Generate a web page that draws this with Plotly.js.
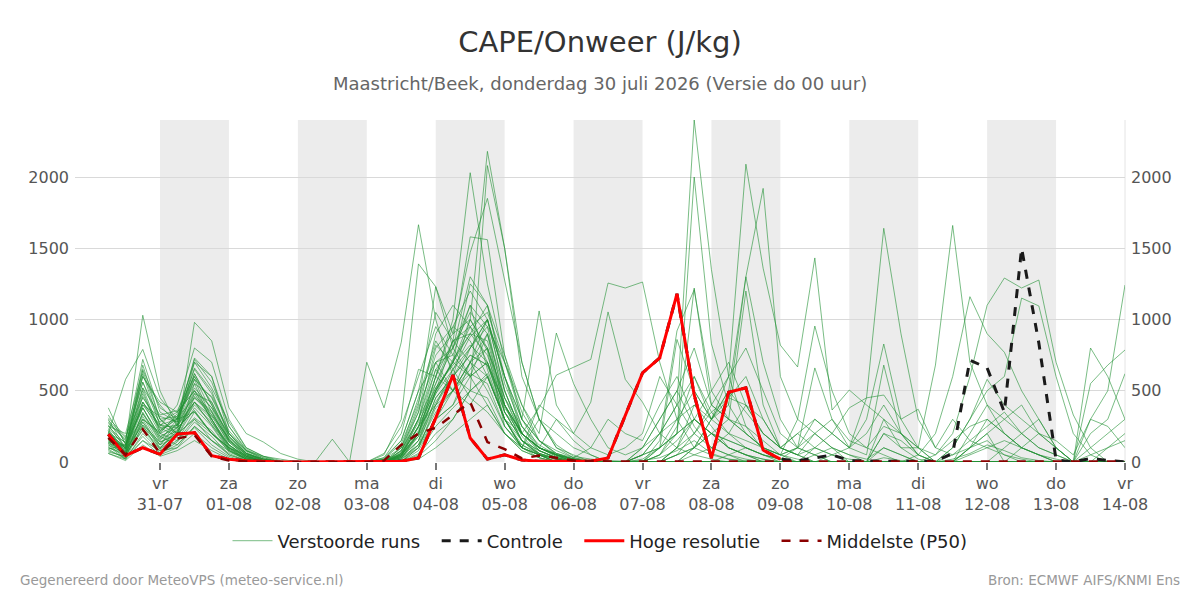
<!DOCTYPE html>
<html>
<head>
<meta charset="utf-8">
<script src="https://cdn.plot.ly/plotly-3.0.1.min.js"></script>
<style>
  html, body { margin: 0; padding: 0; background: #fff; }
  #chart { width: 1200px; height: 600px; }
</style>
</head>
<body>
<div id="chart"></div>
<script>
// ---------- DATA ----------
const startTime = '2026-07-30T06:00:00';
const stepHours = 6;

// Hoge resolutie (HRES), 6-hourly from 30-07 06:00 up to 09-08 00:00
const hres = [195,44,100,54,196,206,44,20,8,3,
              0,0,0,0,0,0,0,5,28,310,
              610,168,20,50,14,5,5,5,5,28,
              325,625,730,1180,470,28,490,520,84,20];

// Controle run
const control = [195,44,100,54,196,206,44,20,8,3,
                 0,0,0,0,0,0,0,5,28,310,
                 610,168,20,50,14,5,5,5,5,28,
                 325,625,730,1180,470,28,490,520,84,20,
                 8,30,50,10,5,5,5,5,5,60,
                 715,660,350,1500,835,14,0,25,10,2];

// Middelste (P50)
const p50 = [170,50,230,60,165,190,40,10,3,0,
             0,0,0,0,0,0,10,120,200,240,
             330,420,140,90,25,45,30,10,5,3,
             3,3,3,3,3,3,3,3,3,3,
             3,3,3,3,3,3,3,3,3,3,
             3,3,3,3,3,3,3,3,3,3];

// Verstoorde runs (ensemble members)
const ensembleRuns = [
 [200,580,790,450,300,350,200,100,40,10, 0,0,0,0,0,0,0,60,250,500, 700,1000,2180,1500,700,300,120,40,20,10, 5,10,30,80,150,60,20,10,5,0, 0,0,0,0,0,30,10,0,0,20, 60,120,80,30,10,0,0,0,0,0],
 [380,120,1030,500,250,420,300,120,30,0, 0,0,0,0,0,0,20,100,400,1230, 800,1300,1100,600,300,100,50,20,0,0, 0,50,200,400,2400,1350,600,250,80,20, 0,0,0,0,0,0,0,0,0,0, 0,0,0,0,0,0,0,0,0,0],
 [250,200,640,300,200,980,850,380,200,140, 60,20,0,0,0,0,0,50,200,600, 1000,2030,1250,700,400,150,60,20,0,0, 0,0,50,200,2000,830,400,200,100,50, 20,0,0,0,0,0,0,0,0,0, 0,0,0,0,0,0,0,0,0,0],
 [150,60,420,250,400,800,700,300,100,40, 0,0,0,0,0,700,380,840,1665,1000, 600,500,2080,1500,600,300,100,30,10,0, 0,0,0,0,0,0,0,0,0,0, 0,0,0,0,0,0,0,0,0,0, 0,0,0,0,0,0,0,0,0,0],
 [100,50,350,150,300,730,600,250,80,20, 0,0,0,0,0,0,50,300,1390,1230, 900,1470,1850,1280,700,300,100,50,0,0, 0,0,0,0,0,0,0,0,0,0, 0,0,0,0,0,0,0,0,0,0, 0,0,0,0,0,0,0,0,0,0],
 [120,30,300,100,200,450,350,150,50,10, 0,0,0,0,0,0,0,80,300,700, 500,400,600,300,200,380,610,665,720,1256, 1221,1263,700,300,100,50,20,0,0,0, 0,0,0,0,0,0,0,0,0,0, 0,0,0,0,0,0,0,0,0,0],
 [180,100,600,420,350,500,300,80,20,0, 0,0,0,0,0,0,30,150,500,1050, 850,1580,1560,750,300,1060,400,200,420,1053, 580,420,200,100,50,20,0,0,0,0, 0,0,0,0,0,0,0,0,0,0, 0,0,0,0,0,0,0,0,0,0],
 [220,90,500,200,150,350,200,100,50,20, 0,0,0,0,0,0,0,50,200,500, 700,1250,1100,750,400,200,905,550,300,100, 50,100,300,500,800,400,600,2090,1360,820, 667,1432,365,505,400,300,100,20,0,0, 0,0,0,0,0,0,0,0,0,0],
 [160,40,250,120,250,700,600,200,80,30, 0,0,0,0,0,0,0,0,100,400, 600,800,1000,600,200,100,50,20,0,0, 0,100,200,400,600,300,500,1300,1920,600, 300,954,500,200,100,50,0,0,0,0, 0,0,0,0,0,0,0,0,0,0],
 [90,20,200,80,150,300,200,80,20,0, 0,0,0,0,0,0,0,30,150,400, 500,700,900,500,200,100,50,0,0,0, 0,0,100,200,1221,400,300,200,100,50, 100,300,200,380,450,1640,900,300,100,300, 150,100,50,20,0,0,0,0,0,0],
 [140,70,380,180,120,250,150,60,10,0, 0,0,0,0,0,0,0,0,80,300, 400,600,700,400,150,80,30,0,0,0, 0,0,0,0,50,100,200,400,300,100, 50,200,100,0,0,200,100,100,680,1660, 700,400,200,100,50,0,0,0,0,0],
 [60,20,150,50,100,250,150,50,10,0, 0,0,0,0,0,0,0,0,50,200, 300,500,600,300,100,50,0,0,0,0, 0,0,0,0,0,0,50,100,50,20, 0,0,0,0,0,0,0,50,200,600, 1160,900,770,500,300,100,0,0,0,0],
 [280,150,720,350,280,620,400,150,60,20, 0,0,0,0,0,0,0,100,350,900, 1100,950,700,350,150,80,30,10,0,0, 0,0,50,150,300,200,100,50,20,0, 0,0,0,0,0,0,0,0,50,200, 600,1100,1291,1221,1277,700,330,100,0,0],
 [130,80,480,220,320,550,280,120,40,0, 0,0,0,0,0,0,60,250,600,950, 750,1100,950,400,150,60,20,0,0,0, 0,0,0,100,400,300,500,350,200,100, 50,100,200,100,300,828,300,100,0,100, 300,500,600,1150,1095,600,200,50,0,0],
 [240,110,380,160,220,420,260,90,20,0, 0,0,0,0,0,0,0,40,250,600, 850,900,750,380,200,100,50,20,0,0, 0,50,100,300,500,300,200,150,100,50, 100,660,300,100,50,680,200,50,0,0, 0,0,100,200,300,100,0,800,600,300],
 [170,40,280,90,180,380,250,80,30,0, 0,0,0,0,0,0,0,0,120,450, 600,1000,780,250,100,50,20,0,0,0, 0,0,0,50,200,350,450,600,300,100, 200,300,200,100,450,470,300,370,100,50, 100,200,0,100,200,150,50,300,500,1242],
 [90,120,560,260,240,360,200,100,20,0, 0,0,0,0,0,0,0,20,100,380, 500,700,1000,600,250,80,30,0,0,0, 0,0,150,920,1210,500,300,200,100,50, 0,0,50,100,200,400,200,100,0,100, 300,580,400,300,200,100,0,550,680,786],
 [310,180,450,280,350,500,380,200,80,40, 20,0,0,0,0,0,0,80,300,800, 950,850,600,300,120,50,20,0,0,0, 0,0,100,860,500,300,400,1300,700,300, 100,50,0,0,0,0,0,0,0,0, 100,200,300,400,200,100,0,200,300,620],
 [220,60,320,120,280,660,500,180,60,10, 0,0,0,0,0,0,20,150,500,700, 800,1100,650,300,100,400,300,200,100,50, 100,200,600,400,200,100,50,20,0,0, 0,0,0,0,0,0,0,0,0,0, 0,0,0,0,0,0,0,0,0,0],
 [160,100,680,300,200,300,150,80,10,0, 0,0,0,0,0,0,0,50,180,500, 700,950,800,450,200,100,300,150,50,0, 0,0,0,0,100,200,300,1200,400,100, 50,0,0,0,0,0,0,0,0,0, 0,0,0,0,0,0,0,0,0,0],
 [200,140,420,200,260,580,450,200,60,20, 0,0,0,0,0,0,0,100,450,850, 650,800,1000,500,200,100,40,10,0,0, 0,0,0,0,0,0,0,0,0,0, 0,0,0,0,0,0,0,0,0,0, 0,0,0,0,0,0,0,0,0,0],
 [110,20,260,60,140,280,180,50,10,0, 0,0,0,0,0,0,0,0,60,250, 380,500,450,200,80,30,0,0,0,0, 0,0,0,0,0,0,0,0,0,0, 0,0,0,0,0,0,0,0,0,0, 0,0,0,0,0,0,0,0,0,0],
 [260,90,400,240,180,420,320,140,40,10, 0,0,0,0,0,0,30,200,650,600, 500,800,950,700,300,150,60,20,0,0, 0,100,300,500,250,100,50,0,0,0, 0,0,0,0,0,0,0,0,0,0, 0,0,0,0,0,0,0,0,0,0],
 [80,30,180,60,120,240,120,40,0,0, 0,0,0,0,0,0,0,30,200,550, 850,700,500,250,100,50,20,0,0,0, 0,0,0,0,0,0,0,0,0,0, 0,0,0,0,0,0,0,0,0,0, 0,0,0,0,0,0,0,0,0,0],
 [190,110,520,330,360,600,420,160,50,0, 0,0,0,160,0,0,0,40,150,450, 600,750,680,350,200,100,50,20,0,0, 0,0,0,0,0,0,0,0,0,0, 0,0,0,0,0,0,0,0,0,0, 0,0,0,0,0,0,0,0,0,0],
 [140,50,230,100,220,400,280,100,30,0, 0,0,0,0,0,0,0,60,280,520, 700,600,900,450,180,60,20,0,0,0, 0,0,0,0,0,0,0,0,0,0, 0,0,0,0,0,0,0,0,0,0, 0,0,0,0,0,0,0,0,0,0],
 [70,40,150,80,100,200,100,30,0,0, 0,0,0,0,0,0,0,0,40,150, 300,500,620,300,100,50,0,0,0,0, 0,0,0,0,0,0,0,0,0,0, 0,0,0,0,0,0,0,0,0,0, 0,0,0,0,0,0,0,0,0,0],
 [230,70,340,170,260,480,300,110,30,0, 0,0,0,0,0,0,0,20,120,350, 500,620,550,250,120,60,30,10,0,0, 0,20,100,200,300,200,150,100,50,20, 100,200,300,150,100,250,200,100,50,150, 250,300,200,100,50,20,0,100,200,300],
 [150,90,260,140,190,310,220,70,20,0, 0,0,0,0,0,0,0,50,250,400, 650,450,350,200,100,30,0,0,0,0, 0,50,200,300,400,250,100,50,20,0, 0,50,100,50,20,100,50,0,0,50, 150,250,350,200,100,50,0,0,100,200],
 [120,60,220,90,240,360,200,90,20,0, 0,0,0,0,0,0,0,0,100,300, 400,700,800,350,150,50,0,0,0,0, 0,0,0,100,200,400,300,250,150,50, 300,200,100,50,0,300,200,50,0,0, 100,150,50,0,0,0,0,300,250,100],
 [330,130,300,210,310,450,330,170,60,20, 0,0,0,0,0,0,0,40,300,650, 800,600,700,400,200,100,50,0,0,0, 0,0,0,0,0,0,0,0,0,0, 0,0,0,0,0,0,0,0,0,0, 0,0,0,0,0,0,0,0,0,0],
 [60,10,120,40,80,150,80,20,0,0, 0,0,0,0,0,0,0,0,20,100, 200,300,400,200,80,30,0,0,0,0, 0,0,0,50,100,200,150,100,50,20, 0,100,50,20,0,100,50,0,0,0, 50,100,150,100,50,0,0,50,100,150],
 [200,100,650,380,300,720,560,250,90,30, 0,0,0,0,0,0,0,70,350,750, 900,1000,800,400,200,100,60,30,100,300, 200,150,400,600,300,200,100,50,0,0, 0,0,0,0,0,0,0,0,0,0, 0,0,0,0,0,0,0,0,0,0],
 [270,160,560,300,320,650,480,200,70,10, 0,0,0,0,0,0,20,130,420,820, 700,900,1100,550,250,120,50,20,0,0, 0,0,0,50,100,300,450,400,200,100, 50,0,0,0,0,0,0,0,0,0, 0,0,0,0,0,0,0,0,0,0],
 [180,70,460,240,260,520,380,150,40,0, 0,0,0,0,0,0,0,60,300,550, 800,1050,900,350,150,60,20,0,0,0, 0,0,50,250,600,350,200,100,50,0, 0,0,0,0,0,0,0,0,0,0, 0,0,0,0,0,0,0,0,0,0],
 [300,90,620,260,200,480,420,180,60,10, 0,0,0,0,0,0,0,40,200,480, 650,880,1000,600,300,150,80,30,0,0, 0,0,0,0,0,0,0,0,0,0, 0,0,0,0,0,0,0,0,0,0, 0,0,0,0,0,0,0,0,0,0],
 [140,120,400,320,280,600,350,120,30,0, 0,0,0,0,0,0,0,50,250,650, 500,700,600,300,100,50,0,0,0,0, 0,50,100,200,300,500,700,400,200,100, 200,100,50,0,0,0,0,0,0,0, 0,0,0,0,0,0,0,0,0,0],
 [210,60,300,200,340,700,520,280,100,40, 10,0,0,0,0,0,0,30,180,420, 600,750,680,400,200,100,40,10,0,0, 0,0,0,0,0,0,0,0,0,0, 0,0,0,0,0,200,150,50,0,0, 100,300,200,100,50,0,0,0,0,0],
 [170,100,520,220,300,580,300,100,20,0, 0,0,0,0,0,0,0,0,150,500, 850,950,1050,700,350,150,50,0,0,0, 0,0,0,0,0,0,0,0,0,0, 0,0,0,0,0,0,0,0,0,0, 0,0,0,0,0,0,0,0,0,0],
 [250,130,380,180,240,500,330,160,50,0, 0,0,0,0,0,0,0,80,380,700, 750,600,400,200,100,300,200,100,50,0, 0,0,0,0,100,300,600,800,500,200, 100,50,0,0,0,0,0,0,0,0, 0,0,0,0,0,0,0,0,0,0],
 [130,50,340,140,200,460,360,140,40,0, 0,0,0,0,0,0,0,20,200,600, 950,1200,1000,500,200,80,30,0,0,0, 0,0,0,0,0,0,0,0,0,0, 0,0,0,0,0,0,0,0,0,0, 200,400,300,200,100,50,0,0,0,0],
 [290,170,600,400,260,420,260,120,40,0, 0,0,0,0,0,0,0,60,240,520, 680,820,700,300,150,50,0,0,0,0, 0,0,0,0,0,0,0,0,0,0, 0,0,0,0,0,0,0,0,0,0, 0,0,0,0,0,0,0,0,0,0],
 [100,60,280,120,180,550,460,220,80,20, 0,0,0,0,0,0,0,30,120,300, 500,650,800,450,250,100,50,20,0,0, 0,0,0,100,300,200,100,50,0,0, 0,0,0,0,0,0,0,0,0,0, 0,0,0,0,0,0,0,0,0,0],
 [190,80,420,260,300,620,400,180,60,10, 0,0,0,0,0,0,0,40,220,480, 720,900,850,400,200,80,30,0,0,0, 0,0,0,0,0,0,0,0,0,0, 0,0,0,0,0,0,0,0,0,0, 0,0,0,0,0,0,0,0,0,0]
];

// Axis ticks (midnight of each day)
const tickDates = ['2026-07-31','2026-08-01','2026-08-02','2026-08-03','2026-08-04','2026-08-05','2026-08-06',
                   '2026-08-07','2026-08-08','2026-08-09','2026-08-10','2026-08-11','2026-08-12','2026-08-13','2026-08-14'];
const dayNames = ['vr','za','zo','ma','di','wo','do','vr','za','zo','ma','di','wo','do','vr'];
const dayLabels = ['31-07','01-08','02-08','03-08','04-08','05-08','06-08','07-08','08-08','09-08','10-08','11-08','12-08','13-08','14-08'];
// Shaded days (every other day)
const shadedDays = ['2026-07-31','2026-08-02','2026-08-04','2026-08-06','2026-08-08','2026-08-10','2026-08-12'];
const xRange = ['2026-07-29 18:24', '2026-08-14 00:00'];

const titleText = 'CAPE/Onweer (J/kg)';
const subtitleText = 'Maastricht/Beek, donderdag 30 juli 2026 (Versie do 00 uur)';
const footerLeft = 'Gegenereerd door MeteoVPS (meteo-service.nl)';
const footerRight = 'Bron: ECMWF AIFS/KNMI Ens';
const legendNames = ['Verstoorde runs', 'Controle', 'Hoge resolutie', 'Middelste (P50)'];

// ---------- BUILD ----------
function timeAxis(n) {
  const t0 = new Date(startTime + 'Z').getTime();
  const out = [];
  for (let i = 0; i < n; i++) {
    const d = new Date(t0 + i * stepHours * 3600 * 1000);
    out.push(d.toISOString().slice(0, 16).replace('T', ' '));
  }
  return out;
}
const PAD = '\u00a0\u00a0';

const FONT = 'DejaVu Sans, Noto Sans, sans-serif';
const traces = [];
ensembleRuns.forEach((run, k) => {
  traces.push({
    x: timeAxis(run.length), y: run, type: 'scatter', mode: 'lines',
    name: legendNames[0] + PAD, legendgroup: 'ens', showlegend: k === 0,
    line: { color: 'rgba(34,145,52,0.6)', width: 1 },
    hoverinfo: 'skip'
  });
});
traces.push({
  x: timeAxis(control.length), y: control, type: 'scatter', mode: 'lines',
  name: legendNames[1] + PAD, line: { color: '#1a1a1a', width: 3, dash: 'dash' }
});
traces.push({
  x: timeAxis(hres.length), y: hres, type: 'scatter', mode: 'lines',
  name: legendNames[2] + PAD, line: { color: '#ff0000', width: 3 }
});
traces.push({
  x: timeAxis(p50.length), y: p50, type: 'scatter', mode: 'lines',
  name: legendNames[3], line: { color: '#8b0000', width: 2.5, dash: 'dash' }
});
// invisible trace to carry right axis
traces.push({
  x: timeAxis(2), y: [0, 0], type: 'scatter', mode: 'lines', yaxis: 'y2',
  showlegend: false, hoverinfo: 'skip', line: { width: 0, color: 'rgba(0,0,0,0)' }
});

function addDays(s, n) {
  const d = new Date(s + 'T00:00:00Z');
  d.setUTCDate(d.getUTCDate() + n);
  return d.toISOString().slice(0, 10);
}
const shapes = shadedDays.map(d => ({
  type: 'rect', xref: 'x', yref: 'paper', x0: d, x1: addDays(d, 1), y0: 0, y1: 1,
  fillcolor: '#ececec', line: { width: 0 }, layer: 'below'
}));
shapes.push({
  type: 'line', xref: 'paper', yref: 'paper', x0: 1, x1: 1, y0: 0, y1: 1,
  line: { color: '#e4e4e4', width: 1 }, layer: 'below'
});

// plot area in pixels: x 75..1125, y 120..462
const PL = 75, PW = 1050, PB = 462, PH = 342;
const yTicks = [0, 500, 1000, 1500, 2000];
const layout = {
  width: 1200, height: 600,
  paper_bgcolor: '#ffffff', plot_bgcolor: '#ffffff',
  margin: { l: PL, r: 1200 - PL - PW, t: PB - PH, b: 600 - PB, autoexpand: false },
  font: { family: FONT, color: '#555' },
  title: {
    text: titleText, x: 0.5, xref: 'container', xanchor: 'center',
    y: 1 - 42 / 600, yref: 'container', yanchor: 'middle',
    font: { size: 29, color: '#333', family: FONT }
  },
  xaxis: {
    type: 'date',
    range: xRange,
    tickmode: 'array',
    tickvals: tickDates,
    ticktext: tickDates.map((d, i) => dayNames[i] + '<br>' + dayLabels[i]),
    ticks: 'outside', ticklen: 7, tickwidth: 2, tickcolor: '#777',
    showgrid: false, zeroline: false, showline: false,
    tickfont: { size: 16, color: '#555', family: FONT },
    fixedrange: true, automargin: false
  },
  yaxis: {
    range: [0, 2400], tickmode: 'array', tickvals: yTicks,
    showgrid: true, gridcolor: '#d9d9d9', gridwidth: 1,
    zeroline: false, showline: false, ticks: '',
    tickfont: { size: 16, color: '#555', family: FONT },
    ticklabelstandoff: 5, automargin: false
  },
  yaxis2: {
    range: [0, 2400], tickmode: 'array', tickvals: yTicks,
    overlaying: 'y', side: 'right', showgrid: false, zeroline: false,
    showline: false, ticks: '',
    tickfont: { size: 16, color: '#555', family: FONT },
    ticklabelstandoff: 5, automargin: false
  },
  showlegend: true,
  legend: {
    orientation: 'h', xref: 'container', x: 0.5, xanchor: 'center',
    yref: 'container', y: 1 - 541 / 600, yanchor: 'middle',
    font: { size: 18, color: '#222', family: FONT },
    traceorder: 'normal', itemwidth: 40
  },
  shapes: shapes,
  annotations: [
    { text: subtitleText, xref: 'paper', x: (600 - PL) / PW, xanchor: 'center',
      yref: 'paper', y: (PB - 83) / PH, yanchor: 'middle', showarrow: false,
      font: { size: 18, color: '#666', family: FONT } },
    { text: footerLeft, xref: 'paper', x: (18 - PL) / PW, xanchor: 'left',
      yref: 'paper', y: (PB - 580) / PH, yanchor: 'middle', showarrow: false,
      font: { size: 13.5, color: '#999', family: FONT } },
    { text: footerRight, xref: 'paper', x: (1182 - PL) / PW, xanchor: 'right',
      yref: 'paper', y: (PB - 580) / PH, yanchor: 'middle', showarrow: false,
      font: { size: 13.5, color: '#999', family: FONT } }
  ],
  hovermode: false
};

Plotly.newPlot('chart', traces, layout, { displayModeBar: false, staticPlot: true });
</script>
</body>
</html>
